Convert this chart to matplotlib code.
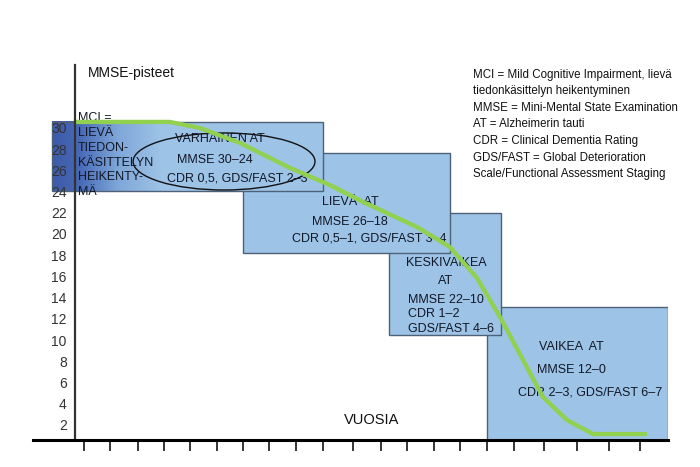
import numpy as np
import matplotlib.pyplot as plt
from matplotlib.patches import Rectangle, Ellipse
from matplotlib.colors import LinearSegmentedColormap

plt.rcParams['font.family'] = ['Liberation Sans', 'DejaVu Sans']

# MMSE-pisteet (y) ja aika (x, vapaa yksikko)
y_ticks = list(range(2, 31, 2))
x_ticks = [0.34, 1.31, 2.34, 3.32, 4.29, 5.28, 6.27, 7.24, 8.26, 9.24, 10.38,
           11.4, 12.39, 13.4, 14.38, 15.37, 16.38, 17.52, 18.75, 19.93, 21.1]

# vaiheiden laatikot: MCI/varhainen, lieva, keskivaikea, vaikea
stage_start = [-0.86, 6.27, 11.72, 15.37]
stage_end = [9.25, 13.99, 15.9, 22.13]
stage_top = [30.57, 27.6, 21.98, 13.1]
stage_bottom = [24.06, 18.2, 10.47, 0.57]

# taudin kulku (vihrea kayra)
curve_x = [0, 3.54, 4.66, 6.16, 8.02, 9.51, 10.75, 12.76, 13.99, 15.0,
           15.86, 16.72, 17.46, 18.36, 19.33, 21.34]
curve_y = [30.57, 30.57, 30.0, 28.58, 26.23, 24.62, 23.02, 20.66, 18.77, 15.85,
           12.17, 8.11, 4.62, 2.45, 1.13, 1.13]

mci_lines = ['MCI =', 'LIEVÄ', 'TIEDON-', 'KÄSITTELYN', 'HEIKENTY-', 'MÄ']
legend_lines = ['MCI = Mild Cognitive Impairment, lievä',
                'tiedonkäsittelyn heikentyminen',
                'MMSE = Mini-Mental State Examination',
                'AT = Alzheimerin tauti',
                'CDR = Clinical Dementia Rating',
                'GDS/FAST = Global Deterioration',
                'Scale/Functional Assessment Staging']

box_fill = '#9dc3e6'
box_edge = '#4d6178'
txt_col = '#111827'

fig = plt.figure(figsize=(7, 4.67), dpi=100)
ax = fig.add_axes([33 / 700, 27 / 467, 635 / 700, 375 / 467])
ax.set_xlim(-1.57, 22.13)
ax.set_ylim(0.57, 35.94)

for i in range(len(stage_start)):
    z = 4 - i
    w = stage_end[i] - stage_start[i]
    h = stage_top[i] - stage_bottom[i]
    ax.add_patch(Rectangle((stage_start[i], stage_bottom[i]), w, h,
                           facecolor=box_fill, edgecolor='none', zorder=z))
    if i == 0:
        # tummempi liukuvari MCI-osuudessa
        cmap = LinearSegmentedColormap.from_list(
            'mci', [(0, '#3c5aa8'), (0.25, '#4869b6'), (0.6, '#7ea6d8'), (1, box_fill)])
        grad = np.linspace(0, 1, 200).reshape(1, -1)
        ax.imshow(grad, cmap=cmap, aspect='auto', interpolation='bilinear',
                  extent=(stage_start[0], 3.2, stage_bottom[0], stage_top[0]),
                  zorder=z + 0.1)
    ax.add_patch(Rectangle((stage_start[i], stage_bottom[i]), w, h,
                           facecolor='none', edgecolor=box_edge, lw=1.0, zorder=z + 0.2))

ax.add_patch(Ellipse((5.56, 26.84), 6.79, 5.38, facecolor='none',
                     edgecolor='#111111', lw=1.0, zorder=5))

ax.plot(curve_x, curve_y, color='#92d050', lw=3.1, solid_joinstyle='round',
        solid_capstyle='butt', zorder=8)


def rows(x, y, lines, step, **kw):
    for k, r in enumerate(lines):
        ax.text(x, y - k * step, r, **kw)


bt = dict(fontsize=9, color=txt_col, va='center', zorder=7)
rows(0.11, 30.94, mci_lines, 1.40, ha='left', **bt)

ax.text(5.41, 28.96, 'VARHAINEN AT', ha='center', **bt)
ax.text(5.20, 26.98, 'MMSE 30–24', ha='center', **bt)
ax.text(6.04, 25.28, 'CDR 0,5, GDS/FAST 2–3', ha='center', **bt)

ax.text(10.26, 23.02, 'LIEVÄ  AT', ha='center', **bt)
ax.text(10.26, 21.13, 'MMSE 26–18', ha='center', **bt)
ax.text(10.97, 19.62, 'CDR 0,5–1, GDS/FAST 3–4', ha='center', **bt)

ax.text(13.86, 17.26, 'KESKIVAIKEA', ha='center', **bt)
ax.text(13.84, 15.57, 'AT', ha='center', **bt)
rows(12.43, 13.77, ['MMSE 22–10', 'CDR 1–2', 'GDS/FAST 4–6'], 1.36, ha='left', **bt)

ax.text(18.54, 9.34, 'VAIKEA  AT', ha='center', **bt)
ax.text(18.54, 7.17, 'MMSE 12–0', ha='center', **bt)
ax.text(19.22, 5.09, 'CDR 2–3, GDS/FAST 6–7', ha='center', **bt)

ax.text(0.49, 35.19, 'MMSE-pisteet', fontsize=10, color='#111111', va='center')
ax.text(11.08, 2.45, 'VUOSIA', fontsize=10.5, color='#111111', ha='center', va='center')
rows(14.85, 35.0, legend_lines, 1.557, fontsize=8.3, color='#111111',
     ha='left', va='center')

# akselit
for s in ['top', 'right']:
    ax.spines[s].set_visible(False)
ax.spines['left'].set_position(('data', 0))
ax.spines['left'].set_color('#333333')
ax.spines['left'].set_linewidth(1.6)
ax.spines['bottom'].set_color('black')
ax.spines['bottom'].set_linewidth(2.2)
for s in ax.spines.values():
    s.set_zorder(9)
ax.yaxis.set_zorder(9)

ax.set_yticks(y_ticks)
ax.set_xticks(x_ticks)
ax.set_xticklabels([])
ax.tick_params(axis='y', length=0, pad=6, labelsize=10, labelcolor='#333333')
ax.tick_params(axis='x', direction='out', length=8, width=1.1, color='black')

fig.savefig('out.png', dpi=100)
